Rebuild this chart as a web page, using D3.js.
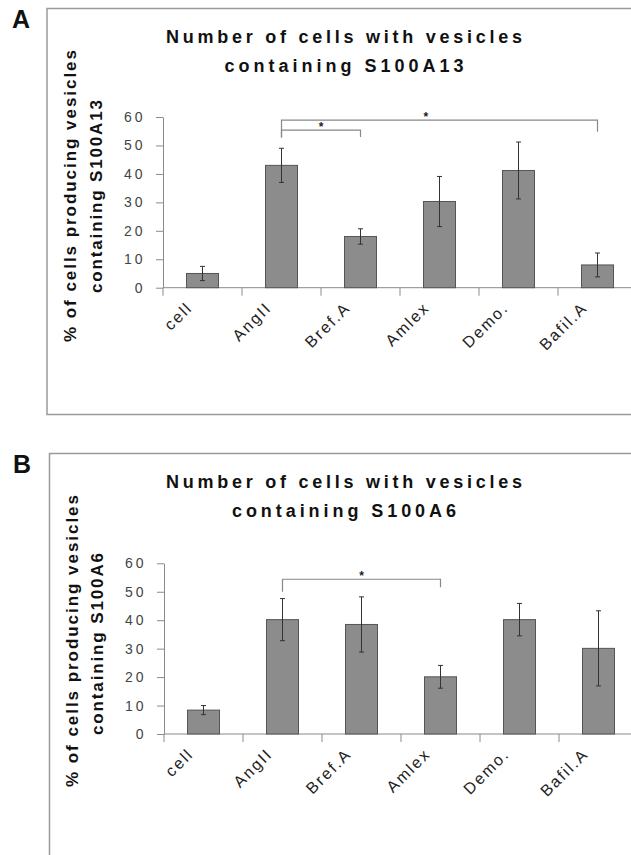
<!DOCTYPE html>
<html>
<head>
<meta charset="utf-8">
<script src="https://cdn.jsdelivr.net/npm/d3@7"></script>
<style>
  body { margin: 0; background: #fff; }
  svg { display: block; font-family: "Liberation Sans", Arial, sans-serif; }
</style>
</head>
<body>
<svg id="fig" width="631" height="855"></svg>
<script>
// categories and tick values shared by both panels
const categories = ['cell', 'AngII', 'Bref.A', 'Amlex', 'Demo.', 'Bafil.A'];
const yTicks = [0, 10, 20, 30, 40, 50, 60];

// panel A: S100A13
const meansA = [5, 43, 18, 30.3, 41.2, 8];
const errA = [2.5, 6, 2.7, 8.8, 10, 4.2];
// panel B: S100A6
const meansB = [8.4, 40.2, 38.5, 20.1, 40.2, 30.1];
const errB = [1.6, 7.4, 9.7, 4, 5.7, 13.2];

// significance brackets (value units), star placed at fraction t of span
const sigA = [
  { from: 'AngII', to: 'Bref.A', y: 55.4, yl: 52.8, yr: 53.0, t: 0.5 },
  { from: 'AngII', to: 'Bafil.A', y: 58.9, yl: 52.8, yr: 54.8, t: 0.457 }
];
const sigB = [
  { from: 'AngII', to: 'Amlex', y: 54.4, yl: 50, yr: 51.6, t: 0.5 }
];

const svg = d3.select('#fig');
svg.append('rect').attr('width', 631).attr('height', 855).attr('fill', '#fff');

function panel(cfg) {
  const g = svg.append('g');

  // outer frame (runs off the right / bottom of the picture)
  g.append('rect')
    .attr('x', cfg.frame[0]).attr('y', cfg.frame[1])
    .attr('width', 800).attr('height', cfg.frame[2])
    .attr('fill', 'none').attr('stroke', '#9a9a9a').attr('stroke-width', 1.5);

  g.append('text')
    .attr('x', cfg.letterPos[0]).attr('y', cfg.letterPos[1])
    .attr('font-size', 25).attr('font-weight', 'bold').attr('fill', '#111')
    .text(cfg.letter);

  // title
  cfg.title.forEach((t, i) => {
    g.append('text')
      .attr('x', 344).attr('y', cfg.titleY[i])
      .attr('text-anchor', 'middle')
      .attr('font-size', 18).attr('font-weight', 'bold').attr('fill', '#111')
      .attr('textLength', cfg.titleLen[i]).attr('lengthAdjust', 'spacing')
      .text(t);
  });

  // y-axis title
  cfg.yTitle.forEach((t, i) => {
    g.append('text')
      .attr('transform', `translate(${cfg.yTitleX[i]},${cfg.yTitleY[i]}) rotate(-90)`)
      .attr('text-anchor', 'middle')
      .attr('font-size', 17).attr('font-weight', 'bold').attr('fill', '#111')
      .attr('textLength', cfg.yTitleLen[i]).attr('lengthAdjust', 'spacing')
      .text(t);
  });

  const x = d3.scaleBand().domain(categories).range([cfg.x0, cfg.x0 + 79 * 6]);
  const y = d3.scaleLinear().domain([0, 60]).range([cfg.y0, cfg.y60]);
  const bw = 32;

  // y axis
  const yAxis = g.append('g')
    .attr('transform', `translate(${cfg.x0},0)`)
    .call(d3.axisLeft(y).tickValues(yTicks).tickSize(7).tickPadding(10.5).tickSizeOuter(0));
  yAxis.select('.domain').attr('stroke', '#8a8a8a');
  yAxis.selectAll('.tick line').attr('stroke', '#8a8a8a');
  yAxis.selectAll('.tick text')
    .attr('font-size', 14).attr('fill', '#444')
    .attr('letter-spacing', 3)
    .attr('font-family', '"Liberation Sans", Arial, sans-serif');

  // x axis line and boundary ticks
  g.append('line')
    .attr('x1', cfg.x0).attr('x2', 640)
    .attr('y1', y(0)).attr('y2', y(0))
    .attr('stroke', '#8a8a8a');
  g.selectAll('.xtick').data(categories).join('line')
    .attr('x1', d => x(d)).attr('x2', d => x(d))
    .attr('y1', y(0)).attr('y2', y(0) + 8)
    .attr('stroke', '#8a8a8a');

  g.selectAll('.xlab').data(categories).join('text')
    .attr('transform', d => `translate(${x(d) + x.bandwidth() / 2 - 9},${y(0) + 21}) rotate(-45)`)
    .attr('text-anchor', 'end')
    .attr('font-size', 16).attr('fill', '#222')
    .attr('letter-spacing', 2)
    .text(d => d);

  // bars
  g.selectAll('.bar').data(cfg.means).join('rect')
    .attr('x', (d, i) => x(categories[i]) + x.bandwidth() / 2 - bw / 2)
    .attr('y', d => y(d))
    .attr('width', bw)
    .attr('height', d => y(0) - y(d))
    .attr('fill', '#8c8c8c').attr('stroke', '#555').attr('stroke-width', 1);

  // error bars
  const eb = g.selectAll('.err').data(cfg.means.map((m, i) => ({ m, e: cfg.err[i], c: categories[i] })))
    .join('g');
  eb.append('line')
    .attr('x1', d => x(d.c) + x.bandwidth() / 2).attr('x2', d => x(d.c) + x.bandwidth() / 2)
    .attr('y1', d => y(d.m - d.e)).attr('y2', d => y(d.m + d.e))
    .attr('stroke', '#333');
  [1, -1].forEach(s => {
    eb.append('line')
      .attr('x1', d => x(d.c) + x.bandwidth() / 2 - 2.5).attr('x2', d => x(d.c) + x.bandwidth() / 2 + 2.5)
      .attr('y1', d => y(d.m + s * d.e)).attr('y2', d => y(d.m + s * d.e))
      .attr('stroke', '#333');
  });

  // significance brackets
  cfg.sig.forEach(b => {
    const xl = x(b.from) + x.bandwidth() / 2;
    const xr = x(b.to) + x.bandwidth() / 2;
    g.append('path')
      .attr('d', `M${xl},${y(b.yl)}V${y(b.y)}H${xr}V${y(b.yr)}`)
      .attr('fill', 'none').attr('stroke', '#888').attr('stroke-width', 1.2);
    g.append('text')
      .attr('x', xl + (xr - xl) * b.t).attr('y', y(b.y) + 1)
      .attr('text-anchor', 'middle')
      .attr('font-size', 12).attr('font-weight', 'bold').attr('fill', '#222')
      .text('*');
  });
}

panel({
  letter: 'A', letterPos: [12, 28], frame: [47, 8.5, 406],
  title: ['Number of cells with vesicles', 'containing S100A13'],
  titleY: [43, 72], titleLen: [356, 239],
  yTitle: ['% of cells producing vesicles', 'containing S100A13'],
  yTitleX: [76, 101.5], yTitleY: [196, 196.5], yTitleLen: [292, 193],
  x0: 163, y0: 287.7, y60: 117,
  means: meansA, err: errA, sig: sigA
});

panel({
  letter: 'B', letterPos: [13, 473], frame: [49.5, 453.5, 500],
  title: ['Number of cells with vesicles', 'containing S100A6'],
  titleY: [488, 517], titleLen: [356, 224],
  yTitle: ['% of cells producing vesicles', 'containing S100A6'],
  yTitleX: [78, 103], yTitleY: [641, 644], yTitleLen: [292, 182],
  x0: 164, y0: 734, y60: 563.3,
  means: meansB, err: errB, sig: sigB
});
</script>
</body>
</html>
